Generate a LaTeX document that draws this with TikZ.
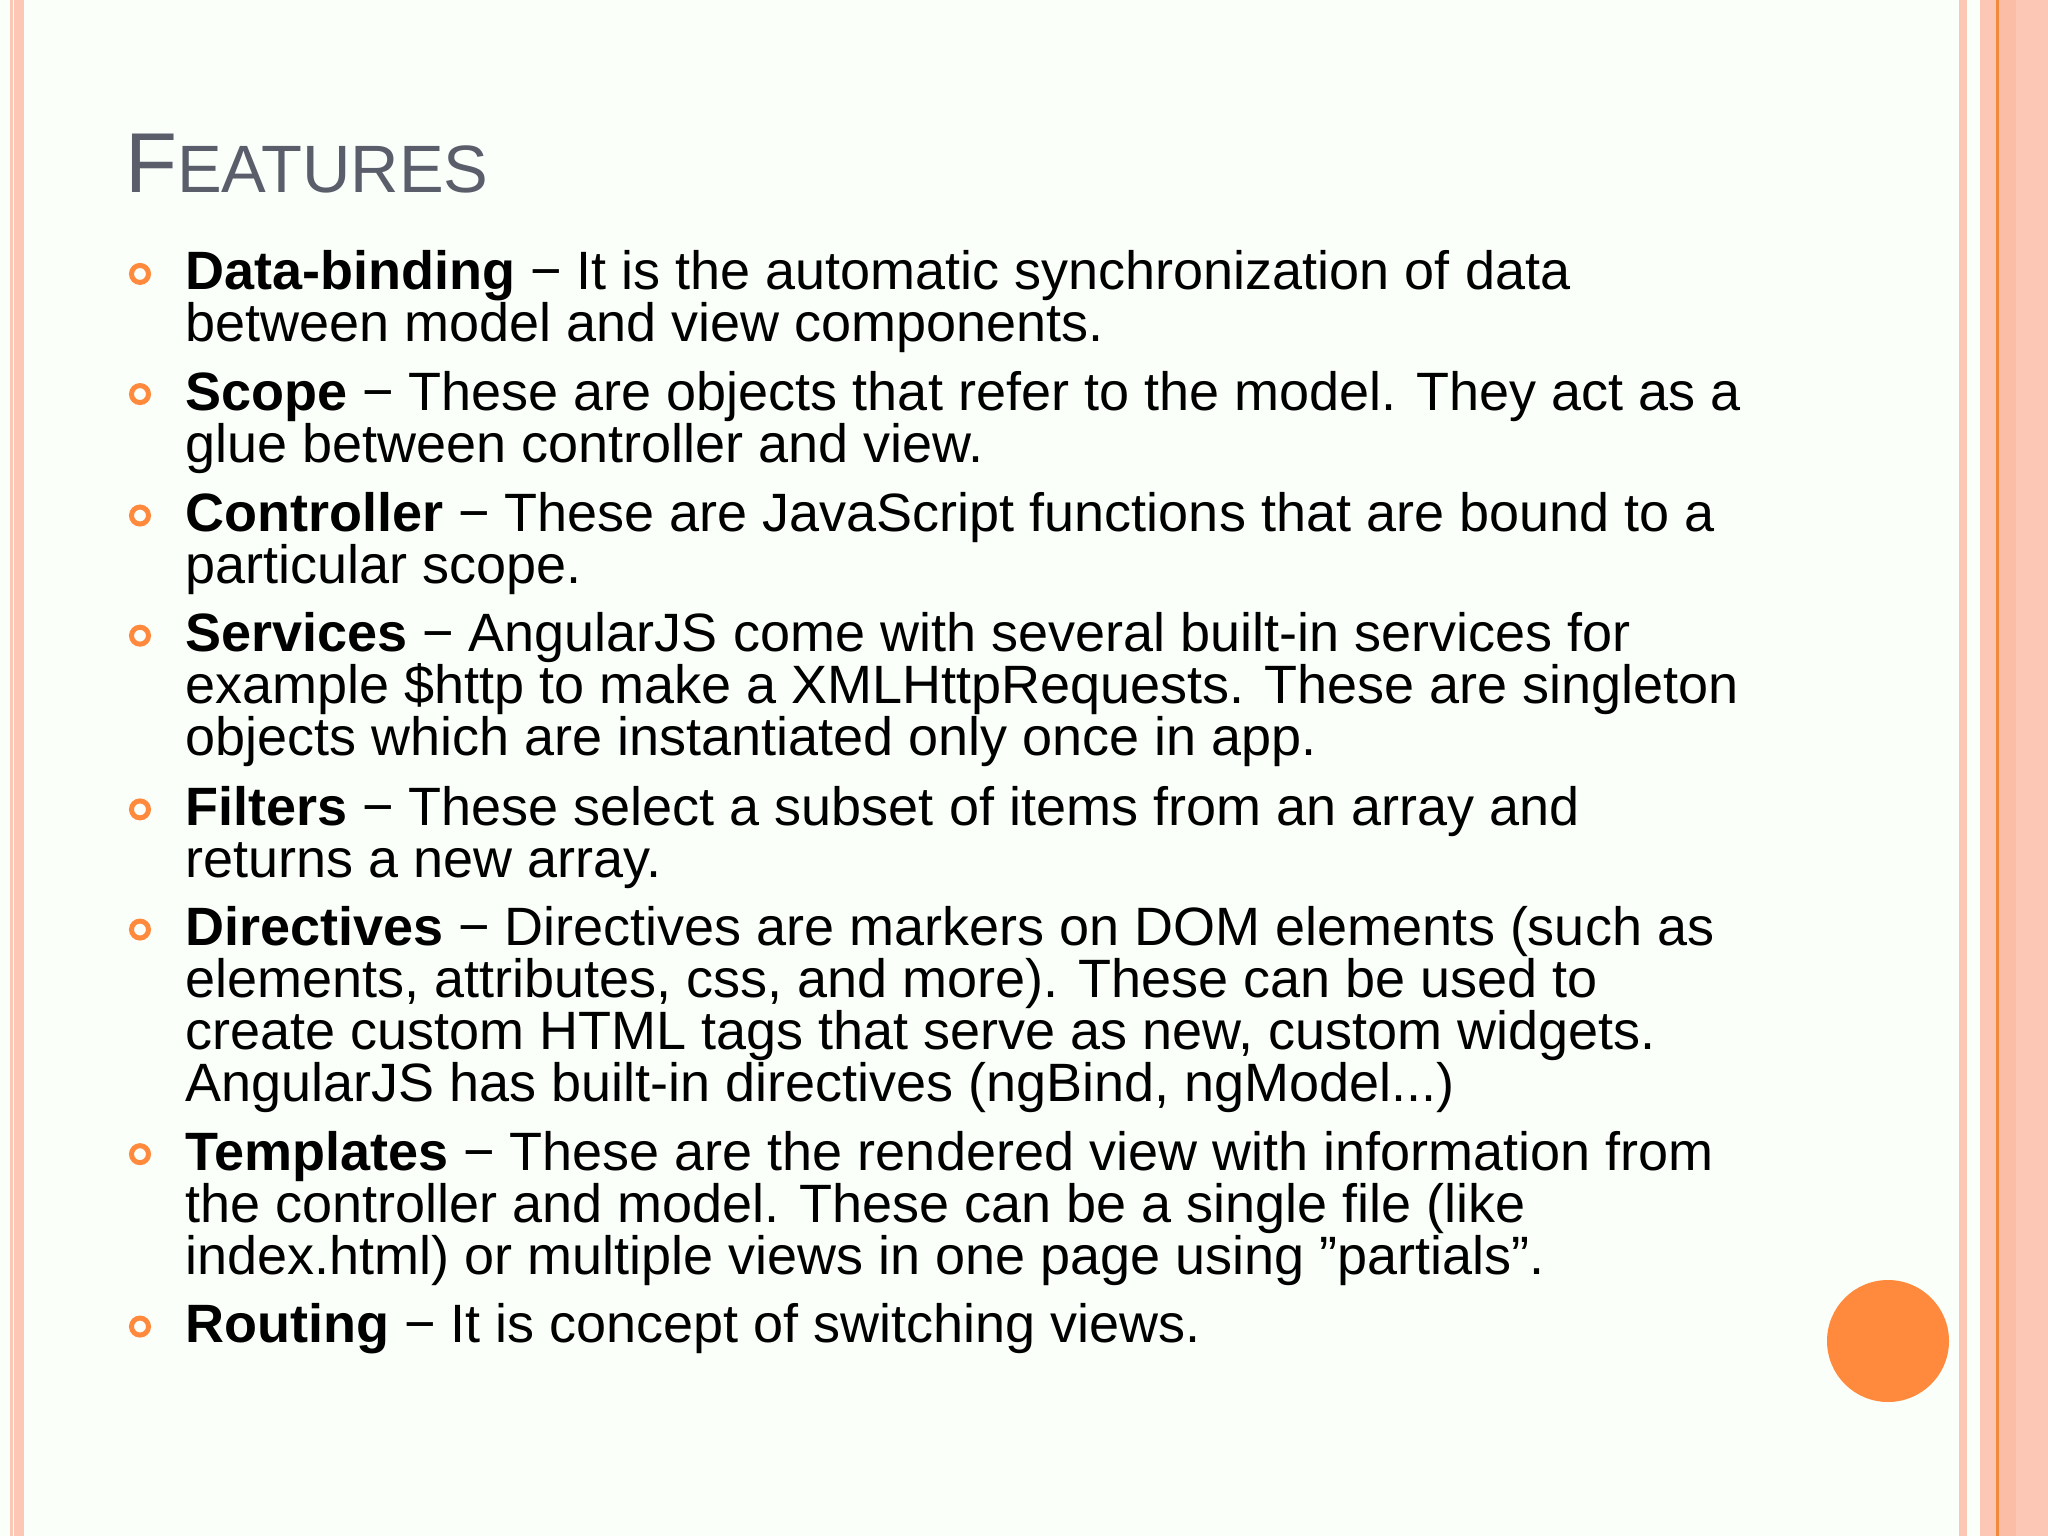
\documentclass[tikz,border=0pt]{standalone}
\usepackage{fontspec}
\setmainfont{Liberation Sans}
\definecolor{pinkA}{HTML}{FCC7B5}
\definecolor{pinkB}{HTML}{FBBDA6}
\definecolor{orng}{HTML}{FF8A3D}
\definecolor{lineor}{HTML}{F08A3C}
\definecolor{titlec}{HTML}{5A5E6B}
\newcommand\itemlines[1]{\vtop{\baselineskip=52pt\halign{##\hfil\cr #1\crcr}}}
\begin{document}
\begin{tikzpicture}[x=1pt,y=-1pt,
  item/.style={anchor=base west,inner sep=0pt,font=\fontsize{54}{52}\selectfont},
  bul/.style={draw=orng,line width=5pt,circle,minimum size=17pt,inner sep=0pt}]
\useasboundingbox (0,0) rectangle (2048,1536);
\fill[white!98!green] (0,0) rectangle (2048,1536);
% left stripes
\fill[pinkA] (10,0) rectangle (13,1536);
\fill[pinkA] (14,0) rectangle (24,1536);
% right stripes
\fill[pinkA] (1959,0) rectangle (1967,1536);
\fill[pinkA] (1980,0) rectangle (2048,1536);
\fill[pinkB] (1998,0) rectangle (2016,1536);
\fill[lineor] (1995.5,0) rectangle (1998.5,1536);
% title
\node[anchor=base west,inner sep=0pt,text=titlec] (title) at (125,193)
  {\fontsize{85}{85}\selectfont F\fontsize{67}{67}\selectfont EATURES};
% items
\foreach \n/\y in {1/222,2/314,3/407,4/499,5/632,6/724,7/896,8/1028}{
  \node[bul] (b\n) at (140,{\y*1.306-16}) {};
}
\node[item] (i1) at (185,{222*1.306}) {\itemlines{\textbf{Data-binding} − It is the automatic synchronization of data\cr between model and view components.}};
\node[item] (i2) at (185,{314*1.306}) {\itemlines{\textbf{Scope} − These are objects that refer to the model. They act as a\cr glue between controller and view.}};
\node[item] (i3) at (185,{407*1.306}) {\itemlines{\textbf{Controller} − These are JavaScript functions that are bound to a\cr particular scope.}};
\node[item] (i4) at (185,{499*1.306}) {\itemlines{\textbf{Services} − AngularJS come with several built-in services for\cr example \$http to make a XMLHttpRequests. These are singleton\cr objects which are instantiated only once in app.}};
\node[item] (i5) at (185,{632*1.306}) {\itemlines{\textbf{Filters} − These select a subset of items from an array and\cr returns a new array.}};
\node[item] (i6) at (185,{724*1.306}) {\itemlines{\textbf{Directives} − Directives are markers on DOM elements (such as\cr elements, attributes, css, and more). These can be used to\cr create custom HTML tags that serve as new, custom widgets.\cr AngularJS has built-in directives (ngBind, ngModel...)}};
\node[item] (i7) at (185,{896*1.306}) {\itemlines{\textbf{Templates} − These are the rendered view with information from\cr the controller and model. These can be a single file (like\cr index.html) or multiple views in one page using \symbol{34}partials\symbol{34}.}};
\node[item] (i8) at (185,{1028*1.306}) {\itemlines{\textbf{Routing} − It is concept of switching views.}};
\fill[orng] (1888,1341) circle (61);
\end{tikzpicture}
\end{document}
